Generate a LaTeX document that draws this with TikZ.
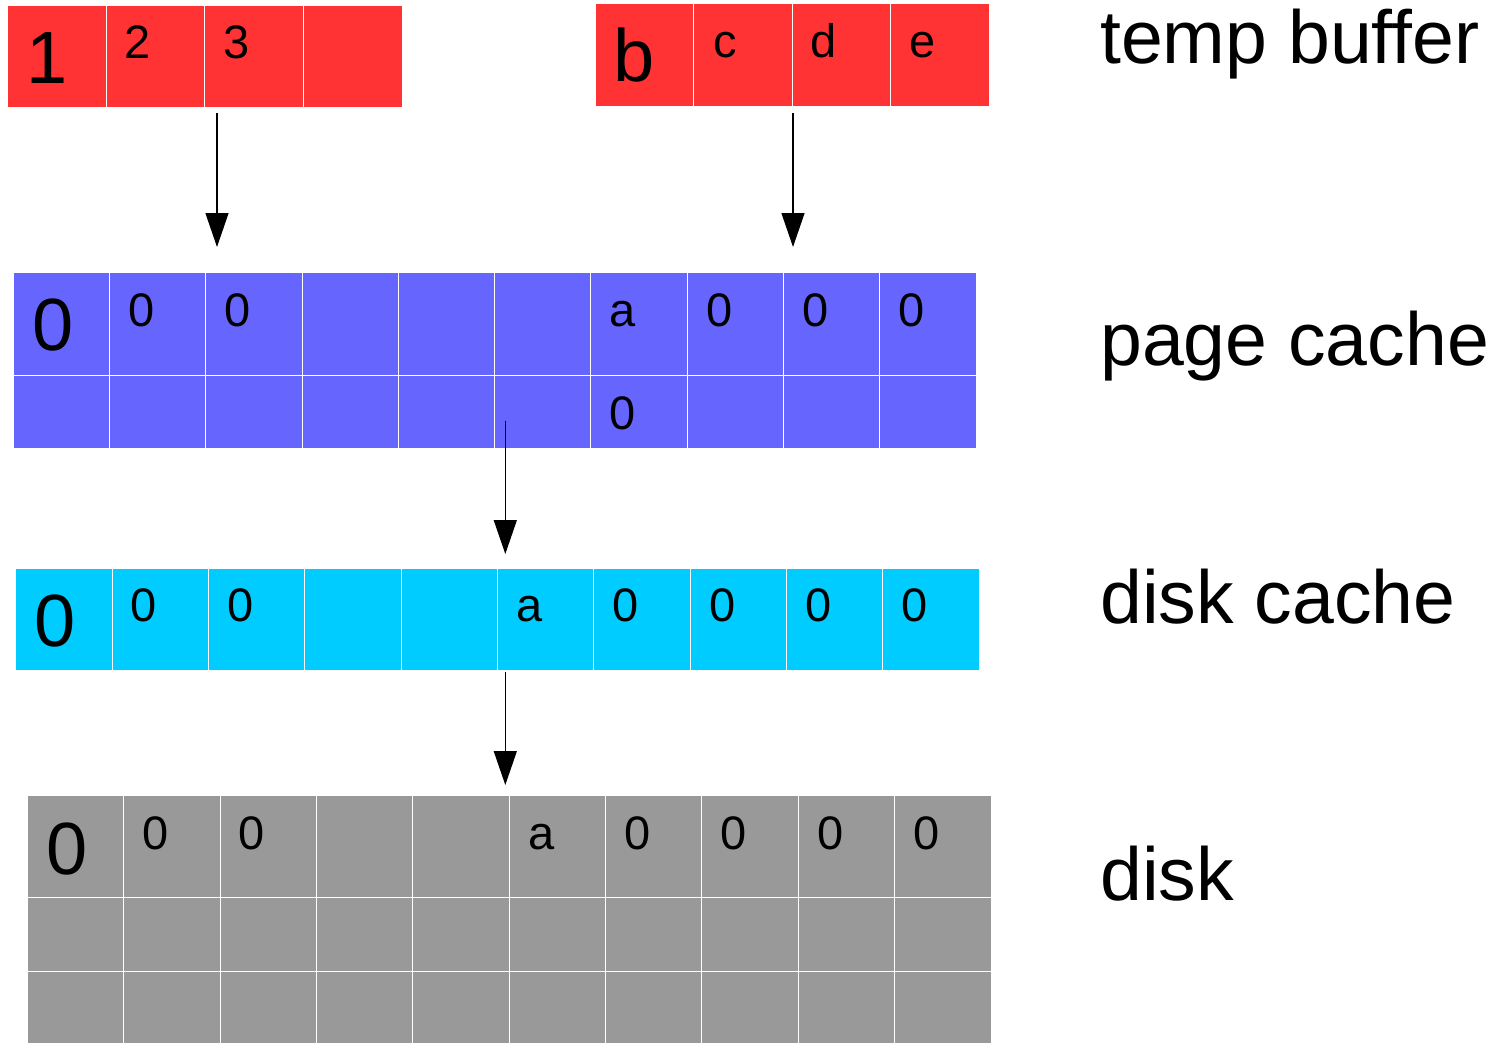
\documentclass[tikz,border=0pt]{standalone}
\usepackage{fontspec}
\setmainfont{Liberation Sans}
\usetikzlibrary{arrows.meta,calc}

\definecolor{bufred}{HTML}{FF3333}
\definecolor{pageblue}{HTML}{6666FF}
\definecolor{diskcyan}{HTML}{00CCFF}
\definecolor{diskgray}{HTML}{999999}

\tikzset{
  cell/.style={draw=white, line width=1pt, inner sep=0pt, outer sep=0pt,
               anchor=north west, minimum width=#1},
  bigtxt/.style={anchor=base, inner sep=0pt, font=\fontsize{74}{74}\selectfont},
  smalltxt/.style={anchor=base, inner sep=0pt, font=\fontsize{47}{47}\selectfont},
  tiertxt/.style={anchor=base west, inner sep=0pt, font=\fontsize{75.2}{75}\selectfont},
  flow/.style={line width=1.3pt, -{Triangle[length=34pt,width=23pt]}},
}

\begin{document}
\begin{tikzpicture}[x=1pt,y=-1pt]
\clip (0,0) rectangle (1495,1043);
\fill[white] (0,0) rectangle (1495,1043);

% temp buffers
\foreach \c in {1,...,4}
  \node[cell=98.7pt, fill=bufred, minimum height=102.4pt] (tbl-\c) at ({7.3+(\c-1)*98.7}, 5.3) {};
\foreach \c in {1,...,4}
  \node[cell=98.5pt, fill=bufred, minimum height=102.7pt] (tbr-\c) at ({595+(\c-1)*98.5}, 4) {};

% page cache
\foreach \r/\y/\h in {1/272.7/102.6, 2/375.3/73}
  \foreach \c in {1,...,10}
    \node[cell=96.27pt, fill=pageblue, minimum height=\h pt] (pc-\r-\c) at ({13.3+(\c-1)*96.27}, \y) {};

% disk cache
\foreach \c in {1,...,10}
  \node[cell=96.36pt, fill=diskcyan, minimum height=101.7pt] (dc-\c) at ({15.7+(\c-1)*96.36}, 568.3) {};

% disk
\foreach \r/\y/\h in {1/795/102.7, 2/897.7/73.6, 3/971.3/73.6}
  \foreach \c in {1,...,10}
    \node[cell=96.37pt, fill=diskgray, minimum height=\h pt] (dk-\r-\c) at ({27.3+(\c-1)*96.37}, \y) {};

% cell contents: temp buffers
\node[bigtxt] (tbl-t1) at ($(tbl-1.north west)+(39.5,78)$) {1};
\node[smalltxt] (tbl-t2) at ($(tbl-2.north west)+(32,53)$) {2};
\node[smalltxt] (tbl-t3) at ($(tbl-3.north west)+(32,53)$) {3};
\node[bigtxt] (tbr-t1) at ($(tbr-1.north west)+(39,78)$) {b};
\node[smalltxt] (tbr-t2) at ($(tbr-2.north west)+(32,53.5)$) {c};
\node[smalltxt] (tbr-t3) at ($(tbr-3.north west)+(32,53.5)$) {d};
\node[smalltxt] (tbr-t4) at ($(tbr-4.north west)+(32,53.5)$) {e};

% cell contents: page cache
\node[bigtxt] (pc-t1) at ($(pc-1-1.north west)+(39.5,78)$) {0};
\foreach \c/\t in {2/0, 3/0, 7/a, 8/0, 9/0, 10/0}
  \node[smalltxt] (pc-t\c) at ($(pc-1-\c.north west)+(32,53.5)$) {\t};
\node[smalltxt] (pc-u7) at ($(pc-2-7.north west)+(32,54)$) {0};

% cell contents: disk cache
\node[bigtxt] (dc-t1) at ($(dc-1.north west)+(39.5,78)$) {0};
\foreach \c/\t in {2/0, 3/0, 6/a, 7/0, 8/0, 9/0, 10/0}
  \node[smalltxt] (dc-t\c) at ($(dc-\c.north west)+(32,53.5)$) {\t};

% cell contents: disk
\node[bigtxt] (dk-t1) at ($(dk-1-1.north west)+(40,79)$) {0};
\foreach \c/\t in {2/0, 3/0, 6/a, 7/0, 8/0, 9/0, 10/0}
  \node[smalltxt] (dk-t\c) at ($(dk-1-\c.north west)+(32,54)$) {\t};

% tier names
\node[tiertxt] (lbl-tb) at (1100,63.3) {temp buffer};
\node[tiertxt] (lbl-pc) at (1100,365) {page cache};
\node[tiertxt] (lbl-dc) at (1100,623.3) {disk cache};
\node[tiertxt] (lbl-dk) at (1100,900) {disk};

% data flow
\coordinate (f1s) at (217,113);   \coordinate (f1e) at (217,247);
\coordinate (f2s) at (793,113);   \coordinate (f2e) at (793,247);
\coordinate (f3s) at (505.3,420.7); \coordinate (f3e) at (505.3,554);
\coordinate (f4s) at (505.3,671.7); \coordinate (f4e) at (505.3,785);
\draw[flow] (f1s) -- (f1e);
\draw[flow] (f2s) -- (f2e);
\draw[flow] (f3s) -- (f3e);
\draw[flow] (f4s) -- (f4e);
\end{tikzpicture}
\end{document}
